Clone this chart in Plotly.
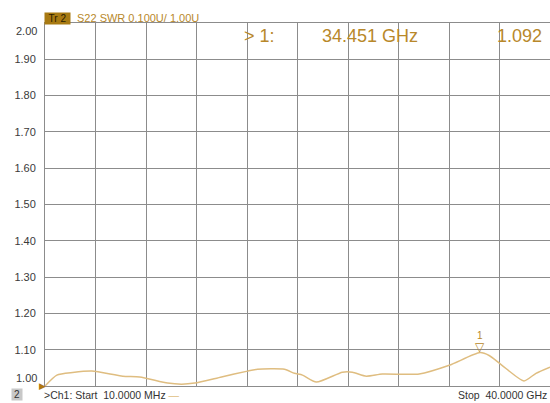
import numpy as np
import plotly.graph_objects as go

# ---- data ----
freq_ghz = [0.01, 0.95, 2.2, 3.72, 6.17, 7.51, 9.72, 10.83, 11.86, 13.99, 16.05, 16.84,
            18.97, 19.76, 20.40, 21.5, 23.56, 24.35, 25.45, 26.72, 29.64, 32.02, 34.451,
            35.18, 36.2, 37.94, 38.89, 40.0]
swr = [1.000, 1.030, 1.037, 1.041, 1.027, 1.025, 1.008, 1.005, 1.008, 1.025, 1.041, 1.046,
       1.046, 1.035, 1.030, 1.011, 1.038, 1.038, 1.027, 1.033, 1.033, 1.057, 1.092,
       1.084, 1.057, 1.014, 1.035, 1.052]

marker_freq = [34.451]
marker_swr = [1.092]

start_ghz = 0.01
stop_ghz = 40.0
y_min, y_max = 1.00, 2.00
y_ticks = [1.00, 1.10, 1.20, 1.30, 1.40, 1.50, 1.60, 1.70, 1.80, 1.90, 2.00]
x_divisions = 10

# ---- styling ----
GOLD = "#b8882a"
TRACE = "#dfbd80"
GRID = "#8c8c8c"
FONT = "Liberation Sans"
TICK_COLOR = "#3a3a3a"

W, H = 550, 403
ML, MR, MT, MB = 45, 0, 23, 17


def px_x(px):
    return (px - ML) / (W - ML - MR)


def px_y(py):
    return (H - MB - py) / (H - MT - MB)


fig = go.Figure()
fig.add_trace(go.Scatter(x=freq_ghz, y=swr, mode="lines",
                         line=dict(color=TRACE, width=1.5, shape="spline", smoothing=0.6),
                         hoverinfo="skip", showlegend=False))

annotations = []
# end tick labels sit inside the grid, like the analyzer does
for v, shift in ((y_min, 8), (y_max, -8)):
    annotations.append(dict(x=0, y=v, xref="paper", yref="y", text=f"{v:.2f}",
                            showarrow=False, xanchor="right", yanchor="middle",
                            xshift=-6, yshift=shift,
                            font=dict(family=FONT, size=11, color=TICK_COLOR)))
# marker triangle and label on the trace
annotations.append(dict(x=marker_freq[0], y=marker_swr[0], xref="x", yref="y",
                        text="▽", showarrow=False, yanchor="bottom", yshift=-3,
                        font=dict(family="DejaVu Sans", size=12, color=GOLD)))
annotations.append(dict(x=marker_freq[0], y=marker_swr[0], xref="x", yref="y",
                        text="1", showarrow=False, yanchor="bottom", yshift=10,
                        font=dict(family=FONT, size=10, color=GOLD)))
# start reference triangle
annotations.append(dict(x=start_ghz, y=y_min, xref="x", yref="y",
                        text="▶", showarrow=False, xanchor="right", xshift=3,
                        font=dict(family="DejaVu Sans", size=9, color="#b07810")))
# header
annotations.append(dict(x=px_x(44), y=px_y(12), xref="paper", yref="paper",
                        text="Tr 2", showarrow=False, xanchor="left", yanchor="top",
                        bgcolor="#a87a12", width=25, height=11, borderpad=0,
                        font=dict(family=FONT, size=10, color="#2b1d00")))
annotations.append(dict(x=px_x(75), y=px_y(17.5), xref="paper", yref="paper",
                        text="S22 SWR 0.100U/ 1.00U", showarrow=False,
                        xanchor="left", yanchor="middle",
                        font=dict(family=FONT, size=11, color=GOLD)))
# marker readout
annotations.append(dict(x=px_x(242), y=px_y(36), xref="paper", yref="paper",
                        text="> 1:", showarrow=False, xanchor="left", yanchor="middle",
                        font=dict(family=FONT, size=18, color=GOLD)))
annotations.append(dict(x=px_x(320), y=px_y(36), xref="paper", yref="paper",
                        text=f"{marker_freq[0]:.3f} GHz", showarrow=False,
                        xanchor="left", yanchor="middle",
                        font=dict(family=FONT, size=18, color=GOLD)))
annotations.append(dict(x=px_x(544), y=px_y(36), xref="paper", yref="paper",
                        text=f"{marker_swr[0]:.3f}", showarrow=False,
                        xanchor="right", yanchor="middle",
                        font=dict(family=FONT, size=18, color=GOLD)))
# footer
annotations.append(dict(x=px_x(11), y=px_y(395), xref="paper", yref="paper",
                        text="2", showarrow=False, xanchor="left", yanchor="middle",
                        bgcolor="#c8c8c8", width=10, height=11, borderpad=0,
                        font=dict(family=FONT, size=10, color="#333333")))
annotations.append(dict(x=px_x(42), y=px_y(395), xref="paper", yref="paper",
                        text=f">Ch1: Start  {start_ghz*1000:.4f} MHz <span style='color:{TRACE}'>—</span>",
                        showarrow=False, xanchor="left", yanchor="middle",
                        font=dict(family=FONT, size=10.5, color="#333333")))
annotations.append(dict(x=px_x(549), y=px_y(395), xref="paper", yref="paper",
                        text=f"Stop  {stop_ghz:.4f} GHz", showarrow=False,
                        xanchor="right", yanchor="middle",
                        font=dict(family=FONT, size=10.5, color="#333333")))

inner_ticks = [v for v in y_ticks if v not in (y_min, y_max)]

fig.update_layout(
    width=W, height=H,
    margin=dict(l=ML, r=MR, t=MT, b=MB, pad=0),
    paper_bgcolor="white", plot_bgcolor="white",
    annotations=annotations,
    xaxis=dict(range=[start_ghz, stop_ghz], tickmode="array",
               tickvals=list(np.linspace(start_ghz, stop_ghz, x_divisions + 1)),
               showticklabels=False, ticks="", showgrid=True, gridcolor=GRID, gridwidth=1,
               showline=True, linecolor=GRID, linewidth=1, mirror=True, zeroline=False,
               fixedrange=True),
    yaxis=dict(range=[y_min, y_max], tickmode="array", tickvals=inner_ticks,
               ticktext=[f"{v:.2f}" for v in inner_ticks], ticks="", ticklabelstandoff=6,
               showgrid=True, gridcolor=GRID, gridwidth=1,
               showline=True, linecolor=GRID, linewidth=1, mirror=True, zeroline=False,
               tickfont=dict(family=FONT, size=11, color=TICK_COLOR), fixedrange=True),
)

fig.write_html("out.html", config={"displayModeBar": False},
               post_script="document.body.style.margin='0';document.body.style.overflow='hidden';")
